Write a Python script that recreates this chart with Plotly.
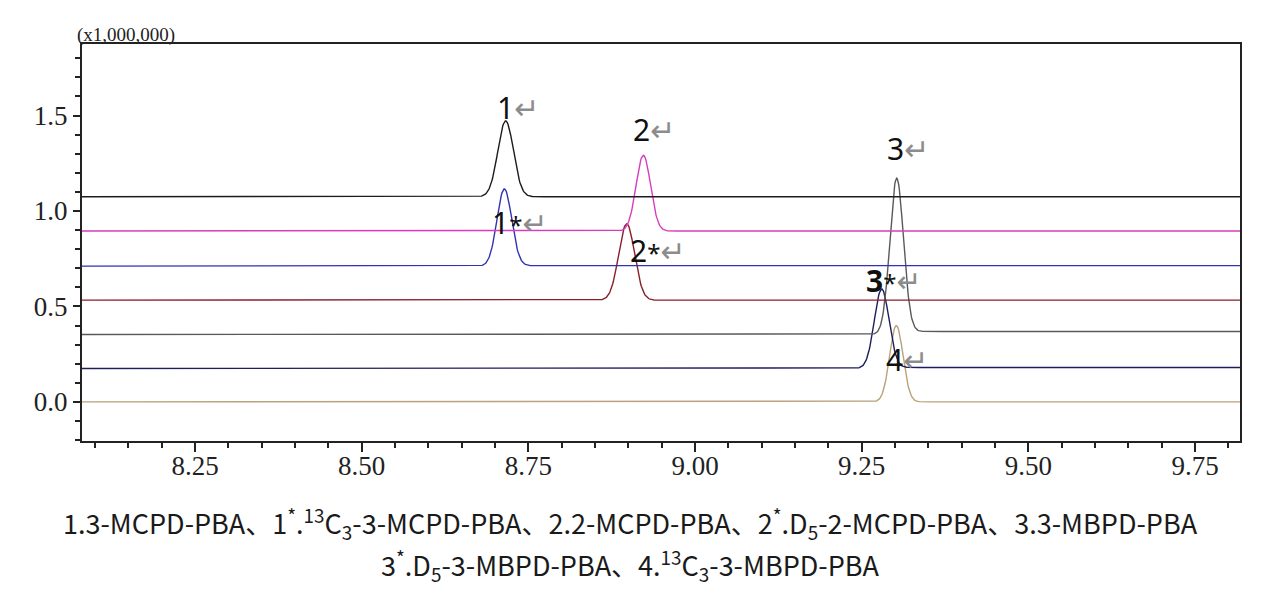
import numpy as np
import plotly.graph_objects as go

# ---- data (intensity in x1,000,000) ----
trace_names = ["1", "2", "1*", "2*", "3", "3*", "4"]
retention_times = [8.716, 8.9225, 8.714, 8.8975, 9.3025, 9.280, 9.302]
peak_heights = [0.397, 0.397, 0.403, 0.400, 0.810, 0.414, 0.400]
peak_sigmas = [0.0117, 0.0108, 0.0110, 0.0119, 0.0102, 0.0110, 0.0100]
baselines_before = [1.075, 0.895, 0.711, 0.533, 0.353, 0.175, 0.000]
baselines_after = [1.075, 0.895, 0.714, 0.533, 0.369, 0.180, 0.000]

x_ticks = [8.25, 8.50, 8.75, 9.00, 9.25, 9.50, 9.75]
x_tick_labels = ["8.25", "8.50", "8.75", "9.00", "9.25", "9.50", "9.75"]
y_ticks = [0.0, 0.5, 1.0, 1.5]
y_tick_labels = ["0.0", "0.5", "1.0", "1.5"]

caption_line1 = ("1.3-MCPD-PBA、1<sup>*</sup>.<sup>13</sup>C<sub>3</sub>-3-MCPD-PBA、2.2-MCPD-PBA、"
                 "2<sup>*</sup>.D<sub>5</sub>-2-MCPD-PBA、3.3-MBPD-PBA")
caption_line2 = "3<sup>*</sup>.D<sub>5</sub>-3-MBPD-PBA、4.<sup>13</sup>C<sub>3</sub>-3-MBPD-PBA"

# ---- styles ----
colors = ["#1c1c1c", "#d83cbc", "#3232b4", "#8a1f2c", "#5a5a5a", "#1e1e5c", "#b9a27c"]
x_range = [8.0805, 9.8175]
y_range = [-0.205, 1.875]

t = np.arange(x_range[0], x_range[1] + 0.0005, 0.001)

fig = go.Figure()
for i in [6, 5, 4, 3, 2, 1, 0]:
    g = np.exp(-0.5 * ((t - retention_times[i]) / peak_sigmas[i]) ** 2)
    cum = np.cumsum(g)
    cum = cum / cum[-1]
    base = baselines_before[i] + (baselines_after[i] - baselines_before[i]) * cum
    y = base + peak_heights[i] * g
    fig.add_trace(go.Scatter(x=t, y=y, mode="lines", name=trace_names[i],
                             line=dict(color=colors[i], width=1.4),
                             showlegend=False, hoverinfo="skip"))

arrow = "<span style='color:#8c8c8c;font-size:30px'>↵</span>"
star = "<span style='font-size:24px'>*</span>"
labels = [
    ("1" + arrow, 8.7345, 1.544),
    ("2" + arrow, 8.9385, 1.429),
    ("1" + star + arrow, 8.7375, 0.941),
    ("2" + star + arrow, 8.9445, 0.794),
    ("3" + arrow, 9.3195, 1.329),
    ("<b>3</b>" + star + arrow, 9.2985, 0.637),
    ("4" + arrow, 9.318, 0.222),
]
for txt, lx, ly in labels:
    fig.add_annotation(x=lx, y=ly, xref="x", yref="y", text=txt, showarrow=False,
                       xanchor="center", yanchor="middle",
                       font=dict(family="Noto Sans, DejaVu Sans", size=30, color="#111111"))

fig.add_annotation(x=-0.006, y=1.0227, xref="paper", yref="paper", text="(x1,000,000)",
                   showarrow=False, xanchor="left", yanchor="middle",
                   font=dict(family="Liberation Serif", size=19, color="#222222"))

fig.add_annotation(x=0.474, y=-0.2065, xref="paper", yref="paper", text=caption_line1,
                   showarrow=False, xanchor="center", yanchor="middle",
                   font=dict(family="Noto Sans CJK SC", size=27, color="#1a1a1a"))
fig.add_annotation(x=0.474, y=-0.312, xref="paper", yref="paper", text=caption_line2,
                   showarrow=False, xanchor="center", yanchor="middle",
                   font=dict(family="Noto Sans CJK SC", size=27, color="#1a1a1a"))

axis_font = dict(family="Liberation Serif", size=27, color="#222222")
fig.update_xaxes(range=x_range, tickvals=x_ticks, ticktext=x_tick_labels,
                 ticks="outside", ticklen=9, tickwidth=1.5, tickcolor="#222222",
                 ticklabelstandoff=-9,
                 minor=dict(dtick=0.05, tick0=8.0, ticks="outside", ticklen=5,
                            tickwidth=1.5, tickcolor="#222222"),
                 showline=True, linecolor="#222222", linewidth=2, mirror=True,
                 showgrid=False, zeroline=False, tickfont=axis_font)
fig.update_yaxes(range=y_range, tickvals=y_ticks, ticktext=y_tick_labels,
                 ticks="outside", ticklen=7, tickwidth=1.5, tickcolor="#222222",
                 minor=dict(dtick=0.1, tick0=0.0, ticks="outside", ticklen=5,
                            tickwidth=1.5, tickcolor="#222222"),
                 showline=True, linecolor="#222222", linewidth=2, mirror=True,
                 showgrid=False, zeroline=False, tickfont=axis_font)

fig.update_layout(width=1260, height=602, margin=dict(l=74, r=28, t=36, b=169),
                  plot_bgcolor="white", paper_bgcolor="white")

fig.write_html("out.html")
